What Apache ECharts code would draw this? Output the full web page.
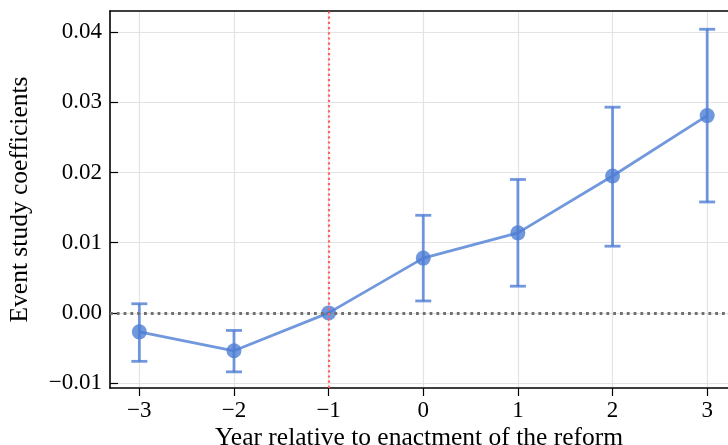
<!DOCTYPE html>
<html>
<head>
<meta charset="utf-8">
<script src="https://cdn.jsdelivr.net/npm/echarts@6/dist/echarts.min.js"></script>
<style>
  html, body { margin: 0; padding: 0; background: #fff; }
  #chart { width: 728px; height: 445px; }
</style>
</head>
<body>
<div id="chart"></div>
<script>
// event study estimates
var years = [-3, -2, -1, 0, 1, 2, 3]
var coefs = [-0.0027, -0.0054, 0, 0.0078, 0.0114, 0.0195, 0.0281]
var ciLow = [-0.0069, -0.0084, 0, 0.0017, 0.0038, 0.0095, 0.0158]
var ciHigh = [0.0013, -0.0025, 0, 0.0139, 0.0190, 0.0293, 0.0404]
var yTicks = [-0.01, 0, 0.01, 0.02, 0.03, 0.04]

var blue = 'rgba(78, 125, 212, 0.8)'
var font = 'Liberation Serif'

var points = years.map(function (x, i) { return [x, coefs[i]] })
var bars = years.filter(function (x, i) { return ciHigh[i] !== ciLow[i] })
  .map(function (x) { var i = years.indexOf(x); return [x, ciLow[i], ciHigh[i]] })

function fmtY (v) {
  var s = v.toFixed(2)
  return s.replace('-', '\u2212')
}
function isTick (v, list) {
  return list.some(function (t) { return Math.abs(t - v) < 1e-9 })
}

var chart = echarts.init(document.getElementById('chart'))
chart.setOption({
  animation: false,
  grid: { left: 110, right: 0, top: 11, bottom: 57, containLabel: false, outerBoundsMode: 'none' },
  xAxis: [{
    type: 'value',
    min: -3.31,
    max: 3.22,
    interval: 1,
    name: 'Year relative to enactment of the reform',
    nameLocation: 'middle',
    nameGap: 37,
    nameMoveOverlap: false,
    nameTextStyle: { fontFamily: font, fontSize: 25.5, color: '#000' },
    axisLine: { onZero: false, lineStyle: { color: '#000', width: 1.6 } },
    axisTick: { show: true, length: 8, lineStyle: { color: '#000', width: 1.2 },
      customValues: years },
    axisLabel: { fontFamily: font, fontSize: 23, color: '#000', margin: 11,
      customValues: years,
      formatter: function (v) { return isTick(v, years) ? String(v).replace('-', '\u2212') : '' } },
    splitLine: { show: true, lineStyle: { color: '#e3e3e3', width: 1.2 } }
  }, {
    type: 'value',
    position: 'top',
    min: -3.31,
    max: 3.22,
    axisLine: { show: true, onZero: false, lineStyle: { color: '#000', width: 1.6 } },
    axisTick: { show: false },
    axisLabel: { show: false },
    splitLine: { show: false }
  }],
  yAxis: {
    type: 'value',
    min: -0.0107,
    max: 0.043,
    name: 'Event study coefficients',
    nameLocation: 'middle',
    nameGap: 77,
    nameMoveOverlap: false,
    nameTextStyle: { fontFamily: font, fontSize: 25.5, color: '#000' },
    axisLine: { show: true, onZero: false, lineStyle: { color: '#000', width: 1.6 } },
    axisTick: { show: true, inside: true, length: 8, lineStyle: { color: '#000', width: 1.2 },
      customValues: yTicks },
    axisLabel: { fontFamily: font, fontSize: 23, color: '#000', margin: 8,
      customValues: yTicks,
      formatter: function (v) { return fmtY(v) } },
    splitLine: { show: true, lineStyle: { color: '#e3e3e3', width: 1.2 } }
  },
  series: [{
    type: 'custom',
    name: 'ci',
    data: bars,
    z: 3,
    renderItem: function (params, api) {
      var x = api.value(0)
      var lo = api.coord([x, api.value(1)])
      var hi = api.coord([x, api.value(2)])
      var cap = 8
      var style = { stroke: blue, lineWidth: 2.8 }
      return {
        type: 'group',
        children: [
          { type: 'line', shape: { x1: lo[0], y1: lo[1], x2: hi[0], y2: hi[1] }, style: style },
          { type: 'line', shape: { x1: lo[0] - cap, y1: lo[1], x2: lo[0] + cap, y2: lo[1] }, style: style },
          { type: 'line', shape: { x1: hi[0] - cap, y1: hi[1], x2: hi[0] + cap, y2: hi[1] }, style: style }
        ]
      }
    }
  }, {
    type: 'line',
    data: points,
    z: 4,
    symbol: 'circle',
    symbolSize: 15,
    itemStyle: { color: blue },
    lineStyle: { color: blue, width: 2.8 },
    markLine: {
      silent: true,
      symbol: 'none',
      label: { show: false },
      data: [
        { yAxis: 0, lineStyle: { color: '#707070', type: [2.8, 4], width: 2.8 } },
        { xAxis: -1, lineStyle: { color: '#ff6060', type: [2.2, 3], width: 2.2 } }
      ]
    }
  }]
})
</script>
</body>
</html>
